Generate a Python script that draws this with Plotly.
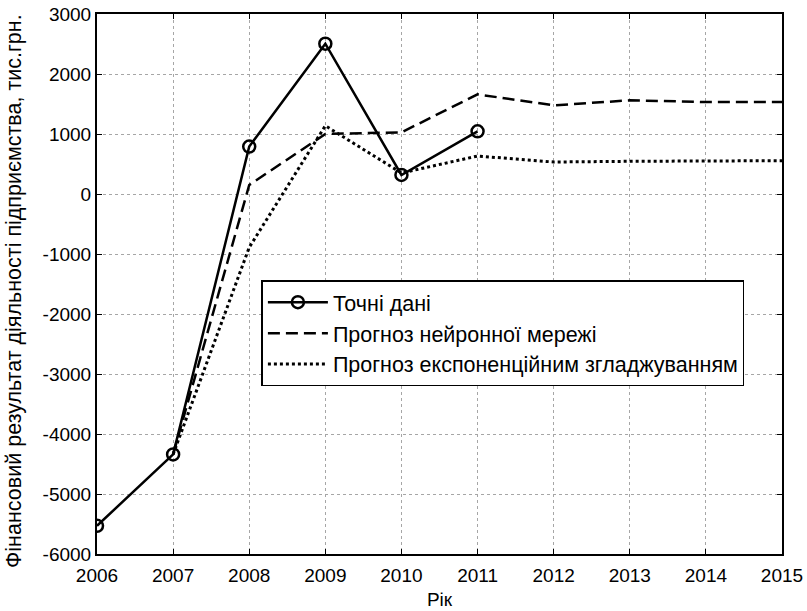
import plotly.graph_objects as go

# Years on the horizontal axis
years_actual = [2006, 2007, 2008, 2009, 2010, 2011]
years_forecast = [2007, 2008, 2009, 2010, 2011, 2012, 2013, 2014, 2015]

# Financial result, thousand UAH
actual = [-5530, -4340, 790, 2505, 317, 1045]
neural = [-4340, 150, 1000, 1028, 1660, 1478, 1561, 1533, 1533]
smoothing = [-4340, -890, 1138, 350, 633, 533, 545, 550, 555]

x_ticks = list(range(2006, 2016))
y_ticks = list(range(-6000, 3001, 1000))

FONT = "Liberation Sans, Arial, sans-serif"
Y_TITLE = "Фінансовий результат діяльності підприємства, тис.грн."

fig = go.Figure()
fig.add_trace(go.Scatter(
    x=years_actual, y=actual, mode="lines+markers", name="Точні дані",
    line=dict(color="black", width=2.5),
    marker=dict(symbol="circle-open", size=12, color="black", line=dict(width=2.5)),
))
fig.add_trace(go.Scatter(
    x=years_forecast, y=neural, mode="lines", name="Прогноз нейронної мережі",
    line=dict(color="black", width=2.5, dash="12px,6px"),
))
fig.add_trace(go.Scatter(
    x=years_forecast, y=smoothing, mode="lines", name="Прогноз експоненційним згладжуванням",
    line=dict(color="black", width=3, dash="3px,3px"),
))

axis_common = dict(
    showline=True, linecolor="black", linewidth=2, mirror="allticks",
    ticks="inside", ticklen=5, tickcolor="black", tickwidth=1,
    showgrid=True, gridcolor="#a6a6a6", gridwidth=1, griddash="dot",
    zeroline=False, automargin=False,
    tickfont=dict(family=FONT, size=19, color="black"),
)

fig.update_xaxes(
    range=[2006, 2015], tickvals=x_ticks, ticktext=[str(v) for v in x_ticks],
    ticklabelstandoff=3,
    title=dict(text="Рік", font=dict(family=FONT, size=19, color="black"), standoff=8),
    **axis_common,
)
fig.update_yaxes(
    range=[-6000, 3000], tickvals=y_ticks, ticktext=[str(v) for v in y_ticks],
    **axis_common,
)

# Vertical axis caption, placed beside the tick labels
fig.add_annotation(
    text=Y_TITLE, textangle=-90, showarrow=False,
    xref="paper", yref="paper", x=0, y=0.5,
    xanchor="center", yanchor="middle", xshift=-83, yshift=-7,
    font=dict(family=FONT, size=21.5, color="black"),
)

fig.update_layout(
    width=807, height=611,
    margin=dict(l=97, r=25, t=14, b=57),
    plot_bgcolor="white", paper_bgcolor="white",
    font=dict(family=FONT, size=19, color="black"),
    legend=dict(
        x=0.24, y=0.507, xanchor="left", yanchor="top",
        bgcolor="white", bordercolor="black", borderwidth=1.5,
        font=dict(family=FONT, size=21.5, color="black"),
        itemwidth=60, tracegroupgap=0,
    ),
)

fig.write_html("out.html")
